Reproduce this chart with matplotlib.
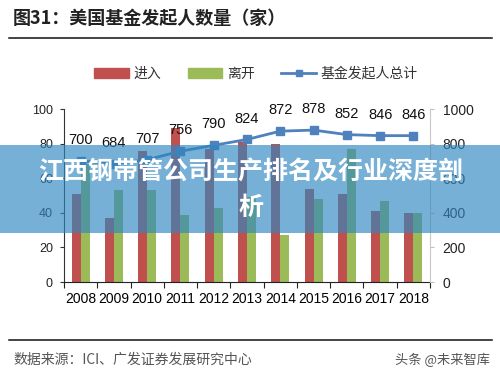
import numpy as np
import matplotlib
matplotlib.use('Agg')
import matplotlib.pyplot as plt
from matplotlib.patches import Patch, Rectangle
from matplotlib.lines import Line2D

plt.rcParams['font.family'] = ['Liberation Sans', 'Noto Sans CJK SC', 'DejaVu Sans']
CJK = ['Noto Sans CJK SC', 'DejaVu Sans']

years = ['2008', '2009', '2010', '2011', '2012', '2013', '2014', '2015', '2016', '2017', '2018']
enter = [51, 37, 76, 89, 77, 81, 80, 54, 51, 41, 40]
leave = [68, 53, 53, 39, 43, 49, 27, 48, 77, 47, 40]
total = [700, 684, 707, 756, 790, 824, 872, 878, 852, 846, 846]

RED = '#C0504D'
GREEN = '#9BBB59'
BLUE = '#4F81BD'

fig = plt.figure(figsize=(5, 3.79), dpi=100)
ax = fig.add_axes([0.128, 0.2559, 0.732, 0.4565])
ax2 = ax.twinx()

x = np.arange(len(years))
w = 0.27
ax.bar(x - w / 2, enter, w, color=RED, zorder=2)
ax.bar(x + w / 2, leave, w, color=GREEN, zorder=2)

ax2.plot(x, total, '-s', color=BLUE, lw=2, ms=6, zorder=3)
for xi, v in zip(x, total):
    ax2.annotate(str(v), (xi, v), xytext=(0, 15), textcoords='offset points',
                 ha='center', va='center', fontsize=10.5, color='#111111')

ax.set_xlim(-0.5, len(years) - 0.5)
ax.set_ylim(0, 100)
ax2.set_ylim(0, 1000)
ax.set_yticks(range(0, 101, 20))
ax2.set_yticks(range(0, 1001, 200))

ax.set_xticks(np.arange(-0.5, len(years)), labels=[])
ax.set_xticks(x, labels=years, minor=True)
ax.tick_params(axis='x', which='major', length=4, direction='out', color='#222222')
ax.tick_params(axis='x', which='minor', length=0, pad=7, labelsize=10)
for t in ax.get_xticklabels(minor=True):
    t.set_family(['Liberation Sans Narrow', 'Liberation Sans'])
ax.tick_params(axis='y', length=3, pad=5, labelsize=9, color='#333333', labelcolor='#222222')
ax2.tick_params(axis='y', length=3, pad=6, labelsize=10, color='#bfbfbf', labelcolor='#222222')

for a in (ax, ax2):
    a.spines['top'].set_visible(False)
ax.spines['right'].set_visible(False)
ax2.spines['left'].set_visible(False)
ax2.spines['bottom'].set_visible(False)
ax2.spines['right'].set_color('#c8c8c8')
ax.spines['left'].set_color('#333333')
ax.spines['bottom'].set_color('#222222')

# legend
handles = [Patch(color=RED), Patch(color=GREEN),
           Line2D([], [], color=BLUE, lw=2, marker='s', ms=5)]
fig.legend(handles, ['进入', '离开', '基金发起人总计'], loc='center',
           bbox_to_anchor=(0.512, 0.805), ncol=3, frameon=False,
           prop={'family': CJK, 'size': 10}, handlelength=2.5,
           handletextpad=0.35, columnspacing=1.9, labelcolor='#333333')

# title, rules and source
fig.text(0.026, 0.952, '图31：美国基金发起人数量（家）', family=CJK, fontsize=13,
         fontweight='bold', color='#222222', va='center')
fig.add_artist(Line2D([0.018, 0.984], [0.899, 0.899], color='#111111', lw=1.1))
fig.add_artist(Line2D([0.018, 0.984], [0.103, 0.103], color='#111111', lw=1.1))
fig.text(0.026, 0.05, '数据来源：ICI、广发证券发展研究中心', family=CJK, fontsize=10,
         color='#555555', va='center')
fig.text(0.98, 0.05, '头条 @未来智库', family=CJK, fontsize=9.5,
         color='#555555', va='center', ha='right')

# overlay banner
fig.add_artist(Rectangle((0, 0.3852), 1, 0.2322, transform=fig.transFigure,
                         facecolor='#2f86c0', alpha=0.65, edgecolor='none', zorder=10))
fig.text(0.502, 1 - 172 / 379, '江西钢带管公司生产排名及行业深度剖', family=CJK,
         fontsize=18, fontweight='bold', color='white', ha='center', va='center', zorder=11)
fig.text(0.502, 1 - 208 / 379, '析', family=CJK, fontsize=18, fontweight='bold',
         color='white', ha='center', va='center', zorder=11)

fig.savefig('out.png', dpi=100)
